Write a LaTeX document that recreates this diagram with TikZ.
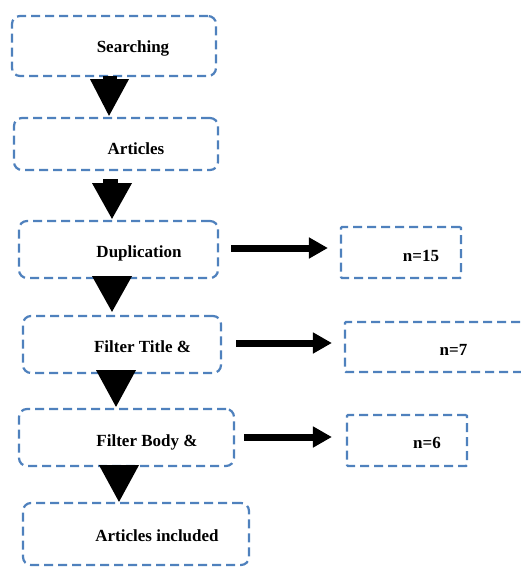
\documentclass[tikz,border=0pt]{standalone}
\usepackage{fontspec}
\setmainfont{Liberation Serif}
\usetikzlibrary{arrows.meta}
\definecolor{boxblue}{RGB}{79,129,189}
\begin{document}
\begin{tikzpicture}[x=1pt,y=-1pt,
  box/.style={draw=boxblue, line width=2.2pt, dash pattern=on 9pt off 5pt, rounded corners=8pt, inner sep=0pt},
  sbox/.style={draw=boxblue, line width=2.2pt, dash pattern=on 9pt off 5pt, rounded corners=1pt, inner sep=0pt},
  txt/.style={font=\fontsize{17}{20}\selectfont\bfseries, inner sep=0pt, text=black},
  blockarrow/.style={fill=black},
  harrow/.style={draw=black, line width=7pt, -{Triangle[width=20pt,length=19pt]}}]
\useasboundingbox[fill=white] (0,0) rectangle (521,567);
% main boxes
\node[box, minimum width=204pt, minimum height=60pt] (search) at (114,46) {};
\node[box, minimum width=204pt, minimum height=52pt] (articles) at (116,144) {};
\node[box, minimum width=199pt, minimum height=57pt] (dup) at (118.5,249.5) {};
\node[box, minimum width=198pt, minimum height=57pt] (title) at (122,344.5) {};
\node[box, minimum width=215pt, minimum height=57pt] (body) at (126.5,437.5) {};
\node[box, minimum width=226pt, minimum height=62pt] (incl) at (136,534) {};
% side boxes
\node[sbox, minimum width=120pt, minimum height=51pt] (n15) at (401,252.5) {};
\node[sbox, minimum width=190pt, minimum height=50pt] (n7) at (440,347) {};
\node[sbox, minimum width=120pt, minimum height=51pt] (n6) at (407,440.5) {};
% texts
\node[txt] (searchT) at ([shift={(19,2)}]search.center) {Searching};
\node[txt] (articlesT) at ([shift={(20,5)}]articles.center) {Articles};
\node[txt] (dupT) at ([shift={(20.5,3.5)}]dup.center) {Duplication};
\node[txt] (titleT) at ([shift={(20.5,2.5)}]title.center) {Filter Title \&};
\node[txt] (bodyT) at ([shift={(20.5,4.5)}]body.center) {Filter Body \&};
\node[txt] (inclT) at ([shift={(21,2)}]incl.center) {Articles included};
\node[txt] (n15T) at ([shift={(20,3.5)}]n15.center) {n=15};
\node[txt] (n7T) at ([shift={(13.5,3)}]n7.center) {n=7};
\node[txt] (n6T) at ([shift={(20,2.5)}]n6.center) {n=6};
% block arrows down
\fill[blockarrow] ([shift={(-11,-1)}]search.south) rectangle ([shift={(3,2)}]search.south);
\fill[blockarrow] ([shift={(-24,2)}]search.south) -- ([shift={(15,2)}]search.south) -- ([shift={(-7,-1)}]articles.north) -- cycle;
\fill[blockarrow] ([shift={(-13,8)}]articles.south) rectangle ([shift={(2,12.5)}]articles.south);
\fill[blockarrow] ([shift={(-24,12)}]articles.south) -- ([shift={(16,12)}]articles.south) -- ([shift={(-6.5,-1)}]dup.north) -- cycle;
\fill[blockarrow] ([shift={(-26.5,-3)}]dup.south) -- ([shift={(13.5,-3)}]dup.south) -- ([shift={(-10,-3)}]title.north) -- cycle;
\fill[blockarrow] ([shift={(-26,-4)}]title.south) -- ([shift={(14,-4)}]title.south) -- ([shift={(-10.5,-1)}]body.north) -- cycle;
\fill[blockarrow] ([shift={(-27.5,-2)}]body.south) -- ([shift={(12.5,-2)}]body.south) -- ([shift={(-17,0)}]incl.north) -- cycle;
% horizontal arrows
\draw[harrow] ([shift={(12,-1.5)}]dup.east) -- ([shift={(-12,-4.5)}]n15.west);
\draw[harrow] ([shift={(14,-1.5)}]title.east) -- ([shift={(-12,-4)}]n7.west);
\draw[harrow] ([shift={(9,-0.5)}]body.east) -- ([shift={(-14,-3.5)}]n6.west);
\end{tikzpicture}
\end{document}
